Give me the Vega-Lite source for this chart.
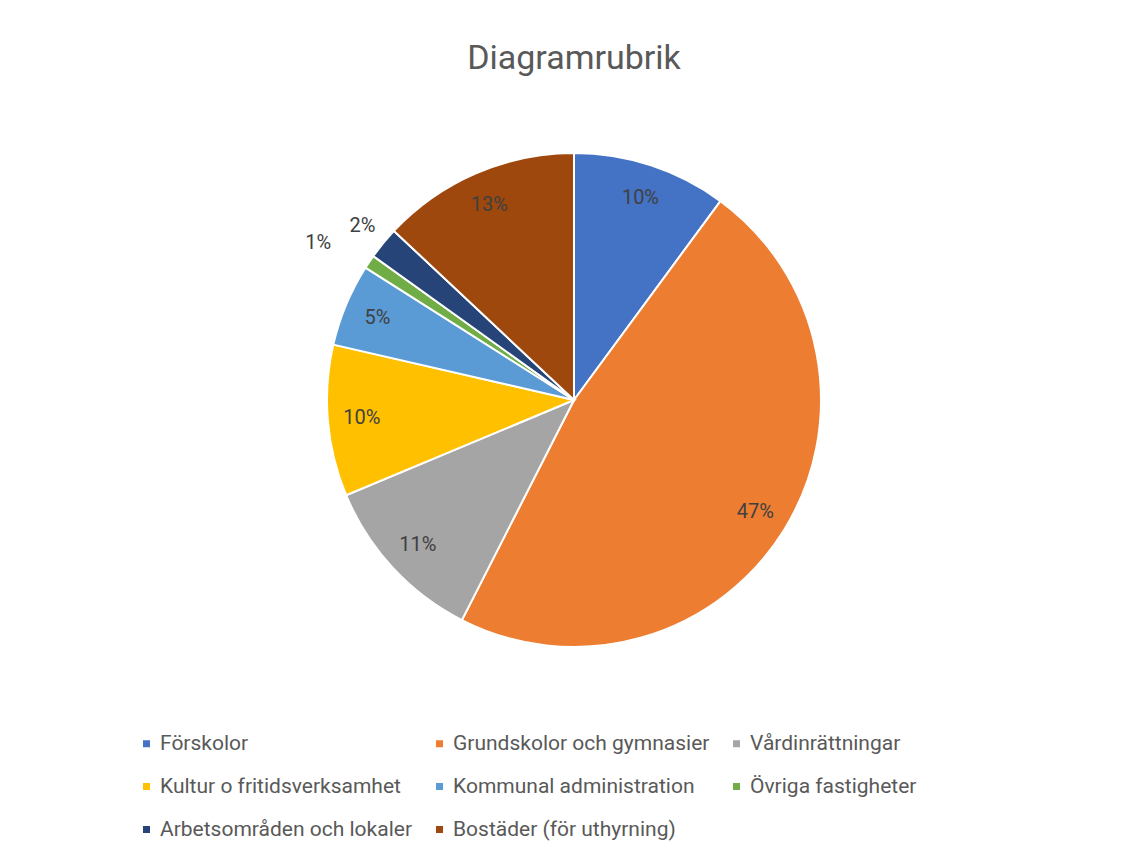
{
  "$schema": "https://vega.github.io/schema/vega-lite/v6.json",
  "autosize": {"type": "none"},
  "width": 1108,
  "height": 800,
  "padding": {"left": 20, "top": 0, "right": 0, "bottom": 59},
  "background": "white",
  "title": {
    "text": "Diagramrubrik",
    "frame": "group",
    "anchor": "middle",
    "orient": "top",
    "offset": -69,
    "dy": 34,
    "baseline": "alphabetic",
    "font": "Roboto",
    "fontSize": 34,
    "fontWeight": "normal",
    "color": "#595959"
  },
  "data": {
    "values": [
      {"i": 1, "name": "Förskolor", "v": 0.101},
      {"i": 2, "name": "Grundskolor och gymnasier", "v": 0.474},
      {"i": 3, "name": "Vårdinrättningar", "v": 0.112},
      {"i": 4, "name": "Kultur o fritidsverksamhet", "v": 0.099},
      {"i": 5, "name": "Kommunal administration", "v": 0.054},
      {"i": 6, "name": "Övriga fastigheter", "v": 0.009},
      {"i": 7, "name": "Arbetsområden och lokaler", "v": 0.021},
      {"i": 8, "name": "Bostäder (för uthyrning)", "v": 0.130}
    ]
  },
  "encoding": {
    "theta": {"field": "v", "type": "quantitative", "stack": true},
    "order": {"field": "i", "type": "quantitative"}
  },
  "layer": [
    {
      "mark": {"type": "arc", "outerRadius": 247, "stroke": "white", "strokeWidth": 2},
      "encoding": {
        "color": {
          "field": "name",
          "type": "nominal",
          "scale": {
            "domain": ["Förskolor", "Grundskolor och gymnasier", "Vårdinrättningar", "Kultur o fritidsverksamhet", "Kommunal administration", "Övriga fastigheter", "Arbetsområden och lokaler", "Bostäder (för uthyrning)"],
            "range": ["#4472C4", "#ED7D31", "#A5A5A5", "#FFC000", "#5B9BD5", "#70AD47", "#264478", "#9E480E"]
          },
          "legend": {
            "title": null,
            "orient": "none",
            "legendX": 116,
            "legendY": 733,
            "direction": "horizontal",
            "columns": 3,
            "symbolType": "square",
            "symbolSize": 49,
            "symbolStrokeWidth": 0,
            "labelFont": "Roboto",
            "labelFontSize": 21,
            "labelColor": "#595959",
            "labelOffset": 3,
            "labelLimit": 400,
            "rowPadding": 21,
            "columnPadding": 16,
            "padding": 0
          }
        }
      }
    },
    {
      "mark": {"type": "text", "radius": 213, "font": "Roboto", "fontSize": 20, "color": "#404040", "align": "center", "baseline": "middle"},
      "encoding": {
        "text": {"condition": {"test": "datum.v >= 0.03", "field": "v", "format": ".0%"}, "value": ""}
      }
    },
    {
      "mark": {"type": "text", "radius": 274, "font": "Roboto", "fontSize": 20, "color": "#404040", "align": "center", "baseline": "middle"},
      "encoding": {
        "text": {"condition": {"test": "datum.name === 'Arbetsområden och lokaler'", "field": "v", "format": ".0%"}, "value": ""}
      }
    },
    {
      "mark": {"type": "text", "radius": 300, "thetaOffset": -0.044, "font": "Roboto", "fontSize": 20, "color": "#404040", "align": "center", "baseline": "middle"},
      "encoding": {
        "text": {"condition": {"test": "datum.name === 'Övriga fastigheter'", "field": "v", "format": ".0%"}, "value": ""}
      }
    }
  ]
}
